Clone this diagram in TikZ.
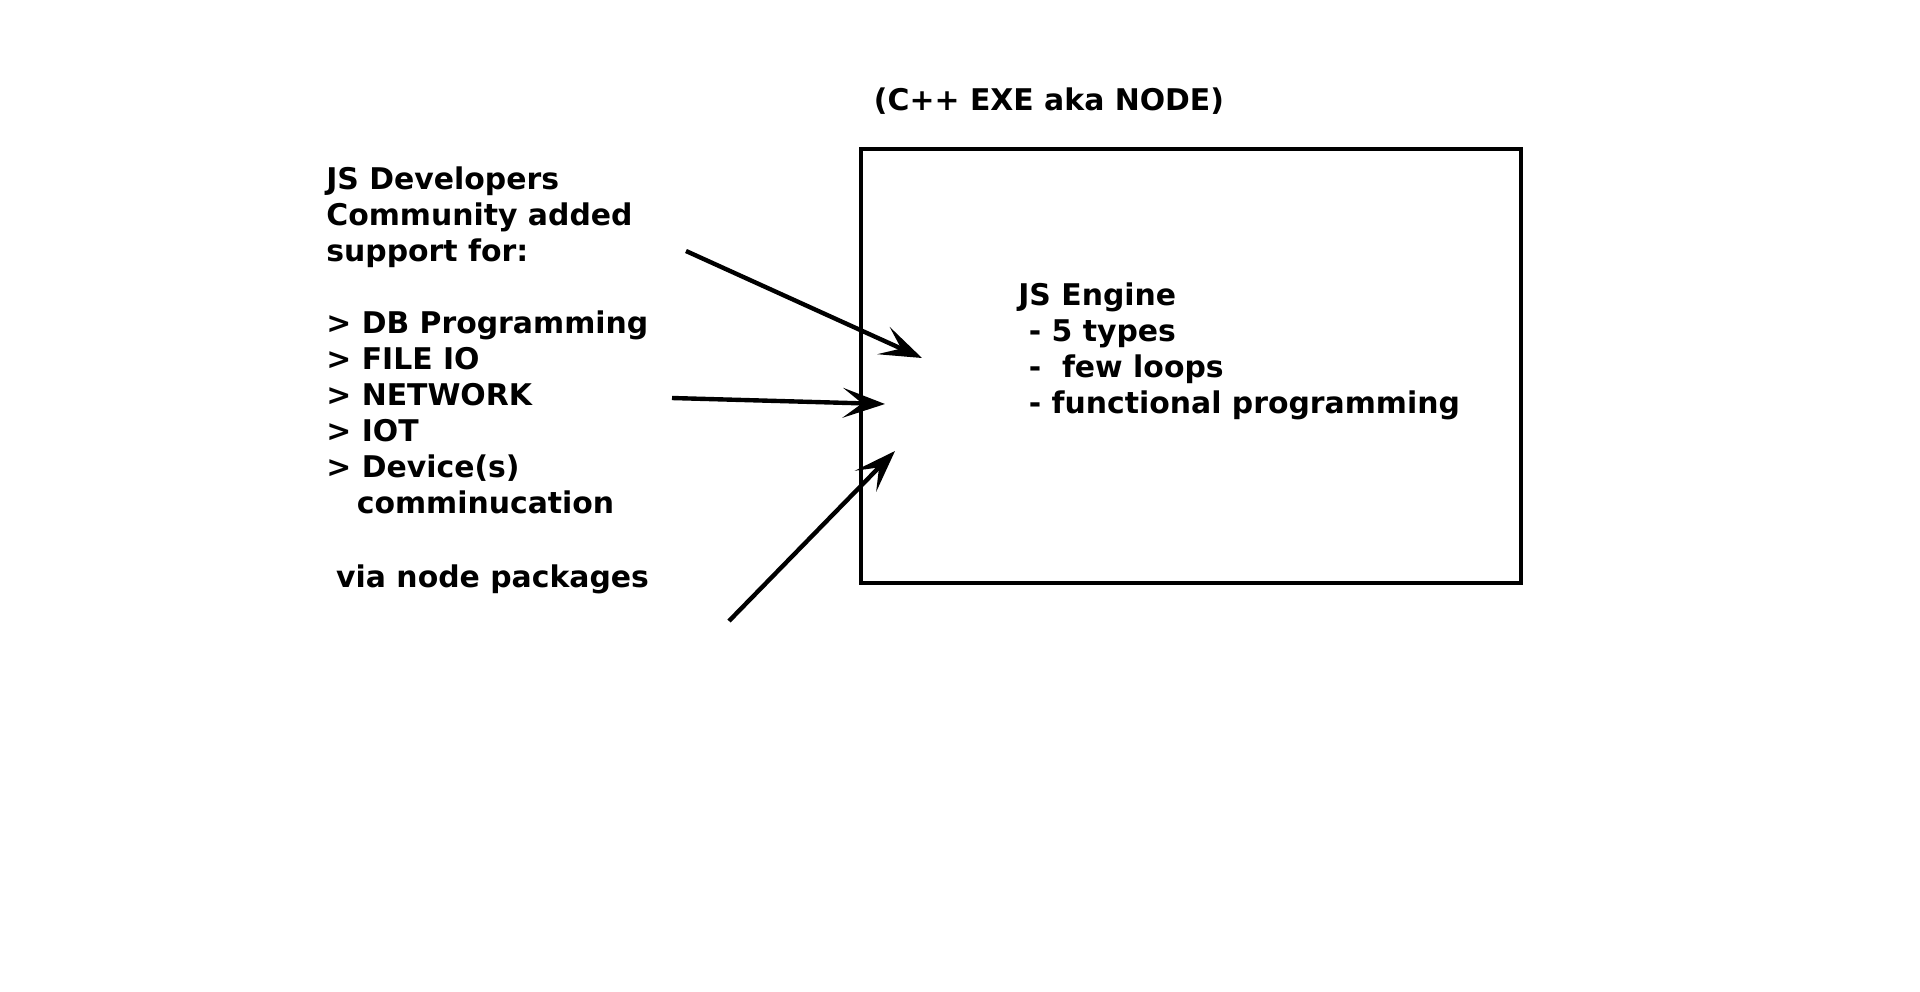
\documentclass[tikz,border=0pt]{standalone}
\usepackage{fontspec}
\setmainfont{DejaVu Sans}
\usetikzlibrary{arrows.meta,positioning}

\newcommand{\indentby}[1]{\hspace*{#1em}}

\begin{document}
\begin{tikzpicture}[
			x = 0.02cm, y = -0.02cm,
			every node/.style = {font=\bfseries\fontsize{17}{20.5}\selectfont, inner sep=0pt},
			enginebox/.style = {draw, line width=2.6pt, minimum width=13.2cm, minimum height=8.68cm},
			push/.style = {-{Stealth[length=24pt,width=17pt,inset=11pt]}, line width=2.5pt}]

			\useasboundingbox (0,0) rectangle (1920,991);

			\node[enginebox] (engine) at (1191,366) {};
			\node (title) at (1049,101) {(C++ EXE aka NODE)};
			\node[anchor=west, align=left] (jsengine) at (1018,351) {JS Engine\\
				\indentby{0.35}- 5 types\\
				\indentby{0.35}- \ few loops\\
				\indentby{0.35}- functional programming};

			\node[anchor=west, align=left] (community) at (326,380) {JS Developers\\
				Community added\\
				support for:\\[20.5pt]
				> DB Programming\\
				> FILE IO\\
				> NETWORK\\
				> IOT\\
				> Device(s)\\
				\indentby{1.02}comminucation\\[21.5pt]
				\indentby{0.33}via node packages};

			\coordinate (dbfrom) at (686,251);
			\coordinate (dbto) at (922,358);
			\coordinate (netfrom) at (672,398);
			\coordinate (netto) at (885,404);
			\coordinate (pkgfrom) at (729,621);
			\coordinate (pkgto) at (895,451);

			\draw[push] (dbfrom) -- (dbto);
			\draw[push] (netfrom) -- (netto);
			\draw[push] (pkgfrom) -- (pkgto);

		\end{tikzpicture}
\end{document}
